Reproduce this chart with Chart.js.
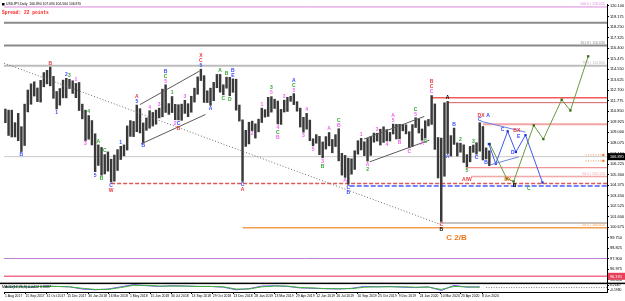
<!DOCTYPE html>
<html>
<head>
<meta charset="utf-8">
<title>USDJPY Daily</title>
<script src="https://cdn.jsdelivr.net/npm/chart.js@4.4.1/dist/chart.umd.min.js"></script>
<style>
  html, body { margin: 0; padding: 0; background: #fff; overflow: hidden; }
  canvas { display: block; }
</style>
</head>
<body>
<canvas id="chart" width="625" height="301"></canvas>
<script>
// USDJPY daily, Aug 2017 - Jun 2020, weekly ranges
const firstWeek = "2017-07-31"

const weekHigh = [
  111.05, 110.95, 110.95, 109.85, 110.67, 109.50, 111.48, 112.72, 113.26, 113.44, 112.90, 113.57, 114.25, 114.45, 114.73, 113.92, 112.59, 112.85, 113.59, 113.75, 113.66, 113.53,
  113.30, 113.38, 111.48, 110.95, 110.48, 110.04, 108.88, 107.90, 107.68, 107.05, 107.29, 106.65, 107.01, 107.49, 107.78, 107.90, 109.57, 110.04, 109.96, 111.40, 111.08, 109.83, 110.27, 110.91, 110.75, 110.96, 111.13, 112.80, 113.18, 111.53,
  112.15, 111.46, 111.43, 111.48, 111.82, 111.52, 112.17, 112.88, 113.87, 114.55, 113.98, 112.65, 112.88, 113.39, 114.09, 114.09, 113.18, 113.85, 113.83, 113.70, 113.67, 111.40,
  110.10, 109.18, 109.89, 109.99, 109.75, 110.16, 111.13, 111.00, 112.08, 112.14, 111.91, 111.75, 111.02, 111.83, 112.08, 112.17, 112.40, 111.70, 111.13, 110.32, 110.67, 110.08,
  108.44, 108.80, 108.65, 108.16, 108.63, 108.99, 108.38, 108.80, 109.32, 107.16, 106.98, 106.73, 106.68, 107.39, 108.27, 108.48, 108.18, 108.47, 108.63, 108.94, 108.93, 109.28,
  109.49, 109.25, 109.00, 109.73, 109.71, 109.71, 109.69, 109.67,
  109.06, 109.69, 110.29, 110.18, 109.30, 110.02, 110.14, 112.23, 111.50, 108.55, 108.50, 111.60, 111.72, 108.72, 109.38, 108.08, 108.05, 107.91, 107.05, 107.77, 107.89, 108.09,
  109.85, 109.52, 107.64, 107.39
]
const weekLow = [
  109.85, 108.73, 108.60, 108.60, 108.27, 107.32, 107.85, 110.80, 111.47, 112.19, 111.70, 111.66, 113.00, 113.26, 113.09, 111.99, 111.06, 111.39, 112.03, 112.03, 112.85, 112.42,
  112.05, 110.92, 110.19, 108.28, 108.40, 107.90, 105.55, 106.10, 105.24, 105.35, 105.60, 104.64, 104.72, 105.66, 106.62, 106.94, 107.45, 108.65, 108.63, 109.06, 108.95, 108.11, 109.18, 109.37, 109.56, 109.72, 110.27, 110.37, 110.75, 110.58,
  110.74, 110.11, 110.10, 110.06, 110.67, 110.38, 110.77, 111.66, 112.35, 113.55, 111.63, 111.62, 111.38, 111.78, 112.92, 112.53, 112.30, 112.88, 112.22, 112.52, 110.95, 109.99,
  104.70, 107.77, 107.99, 109.16, 108.50, 109.05, 109.87, 110.34, 110.40, 110.78, 111.10, 109.74, 109.70, 110.79, 110.84, 111.73, 111.44, 110.86, 109.47, 109.02, 109.28, 108.27,
  107.82, 108.05, 107.04, 106.77, 107.54, 107.82, 107.21, 107.76, 106.50, 105.25, 105.05, 104.45, 105.33, 105.75, 107.09, 107.46, 106.96, 106.48, 106.98, 108.14, 108.24, 107.89,
  108.12, 108.25, 108.24, 108.86, 108.42, 108.43, 109.14, 108.87,
  107.65, 107.77, 109.43, 108.95, 108.31, 108.50, 109.57, 109.70, 107.51, 105.00, 101.18, 105.15, 107.15, 106.92, 107.95, 106.92, 107.26, 106.36, 105.98, 106.42, 107.25, 107.09,
  107.35, 106.58, 106.67, 106.08
]

// price axis labels and date axis labels
const priceTicks = [120.100, 119.175, 118.250, 117.325, 116.400, 115.475, 114.550, 113.625, 112.700, 111.775, 110.850, 109.925, 109.000, 108.075, 107.150, 106.225, 105.300, 104.375, 103.450, 102.525, 101.600, 100.675, 99.750, 98.825, 97.900, 96.975, 96.050]
const dateTicks = ["1 Aug 2017", "15 Sep 2017", "31 Oct 2017", "15 Dec 2017", "30 Jan 2018", "16 Mar 2018", "1 May 2018", "15 Jun 2018", "30 Jul 2018", "13 Sep 2018", "29 Oct 2018", "13 Dec 2018", "28 Jan 2019", "13 Mar 2019", "29 Apr 2019", "12 Jun 2019", "26 Jul 2019", "10 Sep 2019", "25 Oct 2019", "9 Dec 2019", "24 Jan 2020", "10 Mar 2020", "23 Apr 2020", "8 Jun 2020"]

// horizontal levels (price, first date, fibo tag)
const levelPrice = [120.01, 118.63, 116.63, 114.86, 112.05, 111.61, 109.71, 106.87, 105.90, 105.12, 104.51, 104.30, 101.05, 100.62, 97.93, 96.37]
const levelFrom = ["2017-07-30", "2017-07-30", "2017-07-30", "2017-07-30", "2020-02-20", "2020-03-24", "2020-06-10", "2017-07-30", "2020-05-04", "2020-05-15", "2018-03-21", "2019-08-24", "2020-03-11", "2019-01-02", "2017-07-30", "2017-07-30"]
const levelTag = ["100.0", "", "161.8", "78.6", "", "", "", "", "", "50.0", "", "", "", "50.0", "", ""]

// trend line and channels: [date, price] pairs
const trendLine = [["2017-07-30", 115.08], ["2020-03-11", 100.90]]
const channels = [
  [["2018-05-23", 111.44], ["2018-09-30", 114.38]],
  [["2018-05-25", 107.98], ["2018-10-13", 110.57]],
  [["2019-09-24", 108.41], ["2020-02-03", 110.40]],
  [["2019-10-07", 106.42], ["2020-02-14", 108.32]]
]

// projected paths
const bluePath = [["2020-06-23", 107.98], ["2020-07-08", 106.25], ["2020-08-03", 109.10], ["2020-08-21", 107.28], ["2020-09-11", 108.76], ["2020-10-18", 104.60]]
const blueUpper = [["2020-06-06", 109.97], ["2020-09-11", 109.02]]
const blueLower = [["2020-06-27", 106.16], ["2020-08-27", 106.85]]
const greenPath = [["2020-06-25", 107.98], ["2020-08-01", 104.95], ["2020-08-16", 104.69], ["2020-09-29", 109.62], ["2020-10-20", 108.41], ["2020-11-29", 111.87], ["2020-12-18", 110.92], ["2021-01-26", 115.68]]
const orderLines = [107.02, 106.50]

// oscillator, one value every 4 weeks
const oscMain = [0.2, 0.3, 0.1, 0.4, 0.3, 0.2, -0.4, -0.6, -0.4, 0.2, 0.8, 0.5, 0.3, 0.5, 0.4, 0.3, 0.3, 0.1, -0.6, -0.3, 0.4, 0.5, 0.3, -0.1, -0.2, -0.3, -0.4, -0.2, 0.3, 0.2, 0.3, 0.1, 0.0, 0.2, -0.8, 0.6, 0.1, 0.2]
const oscSignal = [0.1, 0.2, 0.2, 0.3, 0.3, 0.2, -0.2, -0.5, -0.5, 0.0, 0.6, 0.6, 0.4, 0.4, 0.4, 0.3, 0.3, 0.2, -0.4, -0.4, 0.2, 0.4, 0.4, 0.0, -0.1, -0.3, -0.3, -0.3, 0.1, 0.2, 0.2, 0.2, 0.1, 0.1, -0.5, 0.3, 0.2, 0.1]
const oscTicks = [0.6, -0.6]
const oscTickLabels = ["0.2140", "-0.1980"]

// wave labels: [week, above/below, text, colour]
const waveLabels = [
  [5, "L", "B", "blue"], [14, "H", "B", "red"], [16, "L", "1", "blue"], [19, "H", "2", "blue"], [20, "H", "3", "green"],
  [22, "H", "1", "pink"], [25, "L", "3", "pink"], [26, "H", "4", "green"], [28, "L", "5", "blue"], [29, "H", "A", "green"],
  [30, "L", "B", "green"], [31, "H", "C", "green"], [33, "L", "C", "blue"], [33, "L", "W", "red"], [36, "H", "1", "blue"],
  [41, "H", "5", "blue"], [41, "H", "A", "red"], [43, "L", "B", "blue"], [45, "H", "4", "pink"], [48, "H", "3", "pink"],
  [50, "H", "5", "pink"], [50, "H", "C", "green"], [50, "H", "B", "blue"], [52, "H", "1", "green"], [53, "L", "2", "pink"],
  [54, "L", "C", "blue"], [54, "L", "B", "red"], [56, "H", "3", "pink"], [61, "H", "5", "blue"], [61, "H", "C", "red"],
  [61, "H", "X", "red"], [64, "L", "A", "blue"], [67, "H", "A", "green"], [68, "L", "C", "green"], [69, "H", "B", "green"],
  [70, "L", "D", "green"], [71, "H", "E", "blue"], [71, "H", "B", "blue"], [74, "L", "C", "blue"], [74, "L", "A", "red"],
  [77, "L", "2", "pink"], [80, "H", "1", "pink"], [83, "H", "5", "pink"], [83, "H", "3", "green"], [85, "L", "4", "pink"],
  [85, "L", "C", "green"], [85, "L", "B", "pink"], [87, "H", "3", "pink"], [90, "H", "5", "pink"], [90, "H", "C", "green"],
  [90, "H", "A", "blue"], [93, "L", "3", "pink"], [94, "H", "4", "pink"], [96, "L", "5", "pink"], [99, "L", "3", "pink"],
  [99, "L", "B", "green"], [101, "H", "A", "pink"], [104, "H", "B", "pink"], [104, "H", "C", "green"], [106, "L", "A", "pink"],
  [107, "L", "C", "blue"], [107, "L", "B", "blue"], [111, "H", "1", "pink"], [113, "L", "A", "pink"], [113, "L", "2", "green"],
  [116, "H", "3", "pink"], [119, "L", "4", "pink"], [121, "H", "5", "pink"], [121, "H", "A", "pink"], [123, "L", "B", "pink"],
  [126, "L", "C", "pink"], [128, "H", "5", "pink"], [128, "H", "C", "green"], [130, "L", "A", "pink"], [131, "L", "C", "green"],
  [133, "H", "C", "pink"], [133, "H", "C", "red"], [133, "H", "B", "red"], [136, "L", "C", "red"], [136, "L", "B", "black"],
  [138, "H", "A", "black"], [138, "L", "A", "blue"], [140, "H", "B", "blue"], [142, "H", "2", "green"], [146, "H", "3", "green"],
  [144, "L", "5", "green"], [147, "L", "C", "blue"], [150, "L", "B", "blue"], [148, "H", "C", "blue"]
]

// labels on the projection: [text, date, price, colour]
const freeLabels = [
  ["DX", "2020-06-06", 110.45, "red"], ["A", "2020-06-21", 110.45, "blue"], ["C", "2020-07-23", 109.25, "blue"],
  ["BX", "2020-08-23", 109.15, "red"], ["E", "2020-08-27", 108.60, "blue"], ["D", "2020-08-14", 107.25, "blue"],
  ["A/W", "2020-05-06", 104.85, "red"], ["DX", "2020-08-03", 104.85, "orange"], ["B", "2020-08-18", 104.30, "black"],
  ["C", "2020-09-18", 104.05, "green"], ["C 2/B", "2020-03-22", 99.75, "orange"]
]

const MONTHS = { Jan: 0, Feb: 1, Mar: 2, Apr: 3, May: 4, Jun: 5, Jul: 6, Aug: 7, Sep: 8, Oct: 9, Nov: 10, Dec: 11 }
const ORIGIN = Date.UTC(2017, 7, 1)

function dayOf(s) {
  let t
  if (s.includes("-")) {
    const [yy, mm, dd] = s.split("-").map(Number)
    t = Date.UTC(yy, mm - 1, dd)
  } else {
    const [dd, mon, yy] = s.split(" ")
    t = Date.UTC(+yy, MONTHS[mon], +dd)
  }
  return (t - ORIGIN) / 864e5
}
const barDay = (i) => dayOf(firstWeek) + 7 * i + 2
const pts = (pairs) => pairs.map(([d, p]) => ({ x: dayOf(d), y: p }))

const xMin = dayOf("2017-07-30")
const xMax = dayOf("2021-03-08")

const palette = { red: "#e8383c", blue: "#3a48ff", green: "#2fa52f", pink: "#f060f0", black: "#000000", orange: "#f07a1e" }

const levelStyle = [
  { c: "#d98ad9", w: 1 }, { c: "#8a8a8a", w: 2 }, { c: "#8a8a8a", w: 2 }, { c: "#bcbcbc", w: 2 },
  { c: "#f05a5a", w: 1.5 }, { c: "#d06060", w: 1 }, { c: "#f5a5a5", w: 2 }, { c: "#c8c8c8", w: 1 },
  { c: "#f07a7a", w: 1 }, { c: "#f0a8a8", w: 1.5 }, { c: "#e05858", w: 1.5, dash: [4, 2] }, { c: "#4a5cff", w: 1.5, dash: [5, 2] },
  { c: "#c4c4c4", w: 2 }, { c: "#f0a050", w: 1.5 }, { c: "#c080d0", w: 1 }, { c: "#f0708a", w: 1.5 }
]

const datasets = []

// weekly high-low bars
datasets.push({
  type: "bar",
  data: weekLow.map((lo, i) => ({ x: barDay(i), y: [lo, weekHigh[i]] })),
  backgroundColor: "#3a3a3a",
  barThickness: 1.8,
  yAxisID: "y",
  order: 5
})

levelPrice.forEach((p, i) => {
  datasets.push({
    type: "line",
    data: [{ x: dayOf(levelFrom[i]), y: p }, { x: xMax, y: p }],
    borderColor: levelStyle[i].c,
    borderWidth: levelStyle[i].w,
    borderDash: levelStyle[i].dash || [],
    pointRadius: 0,
    yAxisID: "y",
    order: 10
  })
})

orderLines.forEach((p) => {
  datasets.push({
    type: "line",
    data: [{ x: dayOf("2021-01-20"), y: p }, { x: dayOf("2021-02-28"), y: p }],
    borderColor: "#f09050", borderWidth: 1, borderDash: [1, 1.5],
    pointRadius: [0, 1.5], pointStyle: "rect", pointBackgroundColor: "#f07020", pointBorderWidth: 0,
    yAxisID: "y", order: 9
  })
})

datasets.push({
  type: "line", data: pts(trendLine), borderColor: "#6a6a6a", borderWidth: 1, borderDash: [1, 2],
  pointRadius: 0, yAxisID: "y", order: 2
})

channels.forEach((c) => {
  datasets.push({ type: "line", data: pts(c), borderColor: "#5a5a5a", borderWidth: 1, pointRadius: 0, yAxisID: "y", order: 2 })
})

datasets.push({ type: "line", data: pts(blueUpper), borderColor: "#7080e0", borderWidth: 1, pointRadius: 0, yAxisID: "y", order: 1 })
datasets.push({ type: "line", data: pts(blueLower), borderColor: "#7080e0", borderWidth: 1, pointRadius: 0, yAxisID: "y", order: 1 })
datasets.push({
  type: "line", data: pts(bluePath), borderColor: "#4058f0", borderWidth: 1, tension: 0,
  pointRadius: 1.6, pointStyle: "rect", pointBackgroundColor: "#1830d0", pointBorderWidth: 0,
  yAxisID: "y", order: 1
})
datasets.push({
  type: "line", data: pts(greenPath), borderColor: "#6a9a40", borderWidth: 1, tension: 0,
  pointRadius: 1.6, pointStyle: "rect", pointBackgroundColor: "#2c6a10", pointBorderWidth: 0,
  yAxisID: "y", order: 1
})

// oscillator pane
datasets.push({
  type: "line", data: oscSignal.map((v, k) => ({ x: barDay(4 * k), y: v })),
  borderColor: "#3cb43c", borderWidth: 1, pointRadius: 0, yAxisID: "y2", order: 1
})
datasets.push({
  type: "line", data: oscMain.map((v, k) => ({ x: barDay(4 * k), y: v })),
  borderColor: "#7a50f0", borderWidth: 1, pointRadius: 0, yAxisID: "y2", order: 1
})
datasets.push({
  type: "line", data: [{ x: barDay(150), y: 0 }, { x: xMax, y: 0 }],
  borderColor: "#808080", borderWidth: 1, borderDash: [1, 1.5], pointRadius: 0, yAxisID: "y2", order: 1
})

const overlay = {
  id: "overlay",
  afterDatasetsDraw(chart) {
    const { ctx, chartArea } = chart
    const x = chart.scales.x
    const y = chart.scales.y
    ctx.save()

    // fibo tags
    ctx.font = '3.6px "Liberation Sans"'
    ctx.textAlign = "right"
    ctx.textBaseline = "bottom"
    levelPrice.forEach((p, i) => {
      if (!levelTag[i]) return
      ctx.fillStyle = levelStyle[i].c
      const py = y.getPixelForValue(p)
      ctx.fillText(levelTag[i] + " | " + p.toFixed(3), chartArea.right - 2, Math.max(py - 1, 5))
    })

    // wave counts
    ctx.font = 'bold 5px "Liberation Sans"'
    ctx.textAlign = "center"
    const used = {}
    waveLabels.forEach(([i, side, text, col]) => {
      const key = i + side
      const k = used[key] || 0
      used[key] = k + 1
      const px = x.getPixelForValue(barDay(i))
      ctx.fillStyle = palette[col]
      if (side === "H") {
        ctx.textBaseline = "bottom"
        ctx.fillText(text, px, y.getPixelForValue(weekHigh[i]) - 1 - k * 5)
      } else {
        ctx.textBaseline = "top"
        ctx.fillText(text, px, y.getPixelForValue(weekLow[i]) + 1 + k * 5)
      }
    })

    ctx.textBaseline = "middle"
    freeLabels.forEach(([text, d, p, col]) => {
      ctx.fillStyle = palette[col]
      if (text.length > 3) {
        ctx.font = 'bold 8px "Liberation Sans"'
        ctx.textAlign = "left"
      } else {
        ctx.font = 'bold 5px "Liberation Sans"'
        ctx.textAlign = "center"
      }
      ctx.fillText(text, x.getPixelForValue(dayOf(d)), y.getPixelForValue(p))
    })
    ctx.restore()
  },
  afterDraw(chart) {
    const { ctx, chartArea } = chart
    const y = chart.scales.y
    ctx.save()

    // pane separator
    ctx.fillStyle = "#000"
    ctx.fillRect(0, y.bottom - 0.5, chart.width, 1.5)

    // price boxes on the axis
    ctx.font = '3.8px "Liberation Sans"'
    ctx.textAlign = "left"
    ctx.textBaseline = "middle"
    const boxes = [[levelPrice[7], "#000000"], [levelPrice[15], "#e8405a"]]
    boxes.forEach(([p, bg]) => {
      const py = y.getPixelForValue(p)
      ctx.fillStyle = bg
      ctx.fillRect(chartArea.right + 1, py - 3.5, chart.width - chartArea.right - 1, 7)
      ctx.fillStyle = "#fff"
      ctx.fillText(p.toFixed(3), chartArea.right + 3, py + 0.3)
    })

    // header
    ctx.fillStyle = "#000"
    ctx.fillRect(2, 3, 2.5, 2.5)
    ctx.font = '3.4px "Liberation Sans"'
    ctx.fillText("USDJPY,Daily  106.890 107.094 106.564 106.870", 6, 4.5)
    ctx.fillStyle = "#ff2020"
    ctx.font = 'bold 4.6px "Liberation Mono"'
    ctx.fillText("Spread: 22 points", 2, 12.5)

    // oscillator caption
    ctx.fillStyle = "#000"
    ctx.font = '3.6px "Liberation Sans"'
    ctx.fillText("MACD(12,26,9) 0.0412 0.0687", 2, y.bottom + 4)
    ctx.restore()
  }
}

const fixWidth = (scale) => {
  scale.width = 18
  scale.paddingTop = 0
  scale.paddingBottom = 0
}

new Chart(document.getElementById("chart"), {
  type: "bar",
  data: { datasets },
  options: {
    responsive: false,
    animation: false,
    devicePixelRatio: 1,
    layout: { padding: 0 },
    plugins: { legend: { display: false }, tooltip: { enabled: false } },
    scales: {
      x: {
        type: "linear",
        min: xMin,
        max: xMax,
        offset: false,
        grid: { drawOnChartArea: false, tickLength: 2, color: "#000", offset: false },
        border: { color: "#000" },
        ticks: {
          autoSkip: false,
          maxRotation: 0,
          minRotation: 0,
          align: "start",
          padding: 0,
          color: "#000",
          font: { family: "Liberation Sans", size: 3.4 },
          callback: (v, i) => dateTicks[i]
        },
        afterBuildTicks: (scale) => {
          scale.ticks = dateTicks.map((s) => ({ value: dayOf(s) }))
        },
        afterFit: (scale) => {
          scale.height = 9
          scale.paddingLeft = 0
          scale.paddingRight = 0
        }
      },
      y: {
        type: "linear",
        position: "right",
        stack: "panes",
        stackWeight: 283,
        min: 95.77,
        max: 120.27,
        grid: { drawOnChartArea: false, tickLength: 2, color: "#000" },
        border: { color: "#000" },
        ticks: {
          autoSkip: false,
          padding: 1,
          color: "#000",
          font: { family: "Liberation Sans", size: 3.9 },
          callback: (v) => v.toFixed(3)
        },
        afterBuildTicks: (scale) => {
          scale.ticks = priceTicks.map((v) => ({ value: v }))
        },
        afterFit: fixWidth
      },
      y2: {
        type: "linear",
        position: "right",
        stack: "panes",
        stackWeight: 9,
        min: -1.2,
        max: 1.2,
        grid: { drawOnChartArea: false, tickLength: 2, color: "#000" },
        border: { color: "#000" },
        ticks: {
          autoSkip: false,
          padding: 1,
          color: "#000",
          font: { family: "Liberation Sans", size: 3.4 },
          callback: (v, i) => oscTickLabels[i]
        },
        afterBuildTicks: (scale) => {
          scale.ticks = oscTicks.map((v) => ({ value: v }))
        },
        afterFit: fixWidth
      }
    }
  },
  plugins: [overlay]
})
</script>
</body>
</html>
